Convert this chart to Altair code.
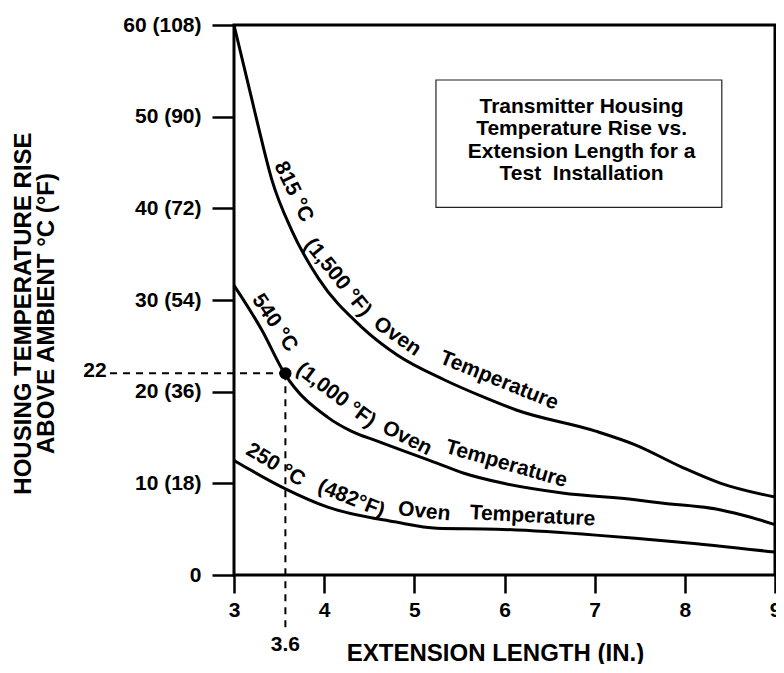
import altair as alt
import pandas as pd

FONT = "Liberation Sans"

# ---- curve data (extension length in inches, temperature rise in °C) ----
x_815 = [3.00, 3.20, 3.28, 3.42, 3.64, 3.94, 4.41, 4.81, 5.33, 5.77, 6.13, 7.01, 7.45, 7.96, 8.40, 9.00]
y_815 = [60.0, 51.8, 48.5, 43.1, 37.6, 32.3, 27.1, 24.0, 21.3, 19.4, 18.0, 15.7, 14.2, 11.8, 10.0, 8.5]

x_540 = [3.00, 3.31, 3.56, 4.04, 4.30, 4.59, 5.25, 5.55, 5.99, 6.64, 7.45, 7.74, 8.40, 8.73, 9.00]
y_540 = [31.6, 26.7, 22.0, 17.2, 15.7, 14.6, 12.2, 11.1, 10.0, 8.95, 8.2, 7.85, 7.1, 6.3, 5.5]

x_250 = [3.00, 3.57, 4.04, 4.78, 5.25, 5.91, 7.01, 7.45, 7.92, 9.00]
y_250 = [12.5, 9.4, 7.4, 5.8, 5.1, 5.0, 4.35, 4.0, 3.6, 2.5]

# ---- axis ticks ----
x_ticks = [3, 4, 5, 6, 7, 8, 9]
y_ticks = [0, 10, 20, 30, 40, 50, 60]
y_tick_labels = ["0", "10 (18)", "20 (36)", "30 (54)", "40 (72)", "50 (90)", "60 (108)"]

# ---- curve labels ----
lab_text = ["815 °C", "(1,500 °F)", "Oven", "Temperature",
            "540 °C", "(1,000 °F)", "Oven", "Temperature",
            "250 °C", "(482°F)", "Oven", "Temperature"]
lab_x = [3.66, 4.15, 4.81, 5.94,
         3.45, 4.13, 4.92, 6.02,
         3.46, 4.30, 5.11, 6.31]
lab_y = [41.8, 32.45, 26.0, 21.2,
         27.5, 19.6, 14.9, 12.1,
         12.0, 8.3, 6.9, 6.4]
lab_angle = [64, 51, 35, 22,
             56, 37, 27, 16,
             31, 22, 6, 3]

# ---- reference point ----
pt_x = [3.57]
pt_y = [22.0]
pt_x_label = ["3.6"]
pt_y_label = ["22"]

# ---- inset title box ----
box_title = ["Transmitter Housing", "Temperature Rise vs.", "Extension Length for a",
             "\u00a0Test\u00a0\u00a0Installation"]
box_x = [5.24]
box_x2 = [8.41]
box_y = [54.0]
box_y2 = [40.1]

# ---------------------------------------------------------------
rows = []
for name, xs_, ys_ in (("815", x_815, y_815), ("540", x_540, y_540), ("250", x_250, y_250)):
    for a, b in zip(xs_, ys_):
        rows.append({"series": name, "x": a, "y": b})
curves = pd.DataFrame(rows)

xs = alt.Scale(domain=[3, 9], nice=False, zero=False)
ys = alt.Scale(domain=[0, 60], nice=False, zero=False)

label_expr = " : ".join(
    f"datum.value == {v} ? '{t}'" for v, t in zip(y_ticks, y_tick_labels)
) + " : ''"

X_AXIS = alt.Axis(
    values=x_ticks, title="EXTENSION LENGTH (IN.)", grid=False, domain=False,
    tickSize=18, tickWidth=2.5, tickColor="black",
    labelFont=FONT, labelFontWeight="bold", labelFontSize=21, labelColor="black",
    labelPadding=6, labelFlush=False,
    titleFont=FONT, titleFontWeight="bold", titleFontSize=24, titleColor="black",
    titleX=261, titleY=85, titleBaseline="alphabetic", titleAnchor="start", titleAlign="center")
Y_AXIS = alt.Axis(
    values=y_ticks, labelExpr=label_expr,
    title=["HOUSING TEMPERATURE RISE", "ABOVE AMBIENT °C (°F)"], grid=False, domain=False,
    tickSize=22, tickWidth=2.5, tickColor="black",
    labelFont=FONT, labelFontWeight="bold", labelFontSize=21, labelColor="black",
    labelPadding=11, labelFlush=False,
    titleFont=FONT, titleFontWeight="bold", titleFontSize=24, titleColor="black",
    titleAngle=270, titleAlign="center", titleBaseline="middle", titleLineHeight=23,
    titleX=-211, titleY=288, titleAnchor="start")


def X(field="x"):
    return alt.X(f"{field}:Q", scale=xs, axis=X_AXIS)


def Y(field="y"):
    return alt.Y(f"{field}:Q", scale=ys, axis=Y_AXIS)


lines = alt.Chart(curves).mark_line(
    color="black", strokeWidth=3, interpolate="monotone"
).encode(x=X(), y=Y(), detail="series:N")

labels_df = pd.DataFrame({"text": lab_text, "x": lab_x, "y": lab_y, "angle": lab_angle})
curve_labels = alt.Chart(labels_df).mark_text(
    font=FONT, fontWeight="bold", fontSize=21, color="black", align="center", baseline="middle"
).encode(
    x=X(), y=Y(), text="text:N",
    angle=alt.Angle("angle:Q", scale=None),
)

# dashed guide lines to the reference point
h_df = pd.DataFrame({"x": [1.625], "x2": pt_x, "y": pt_y})
h_rule = alt.Chart(h_df).mark_rule(color="black", strokeWidth=2, strokeDash=[7, 6], clip=False).encode(
    x=X(), x2="x2:Q", y=Y())
v_df = pd.DataFrame({"x": pt_x, "y": pt_y, "y2": [-6.3]})
v_rule = alt.Chart(v_df).mark_rule(color="black", strokeWidth=2, strokeDash=[7, 6], clip=False).encode(
    x=X(), y=Y(), y2="y2:Q")
pt_df = pd.DataFrame({"x": pt_x, "y": pt_y})
dot = alt.Chart(pt_df).mark_circle(color="black", opacity=1, size=150).encode(x=X(), y=Y())

ylab_df = pd.DataFrame({"x": [1.458], "y": [22.3], "text": pt_y_label})
ylab = alt.Chart(ylab_df).mark_text(
    font=FONT, fontWeight="bold", fontSize=21, color="black", align="center", baseline="middle", clip=False
).encode(x=X(), y=Y(), text="text:N")
xlab_df = pd.DataFrame({"x": pt_x, "y": [-7.6], "text": pt_x_label})
xlab = alt.Chart(xlab_df).mark_text(
    font=FONT, fontWeight="bold", fontSize=21, color="black", align="center", baseline="middle", clip=False
).encode(x=X(), y=Y(), text="text:N")

# inset box
box_df = pd.DataFrame({"x": box_x, "x2": box_x2, "y": box_y, "y2": box_y2})
box = alt.Chart(box_df).mark_rect(fill="white", stroke="#222222", strokeWidth=1.2).encode(
    x=X(), x2="x2:Q", y=Y(), y2="y2:Q")
box_txt_df = pd.DataFrame({"x": [(box_x[0] + box_x2[0]) / 2 + 0.03], "y": [51.1], "text": [box_title]})
box_txt = alt.Chart(box_txt_df).mark_text(
    font=FONT, fontWeight="bold", fontSize=21, color="black", align="center", baseline="middle", lineHeight=22.5
).encode(x=X(), y=Y(), text="text")

chart = alt.layer(
    lines, box, box_txt, curve_labels, h_rule, v_rule, dot, ylab, xlab
).properties(
    width=541, height=550,
    padding={"left": 226, "top": 17, "right": 1, "bottom": 89},
    autosize=alt.AutoSizeParams(type="none"),
).configure_view(
    stroke="black", strokeWidth=3
)

chart.save("out.html", embed_options={"renderer": "svg", "actions": False})
